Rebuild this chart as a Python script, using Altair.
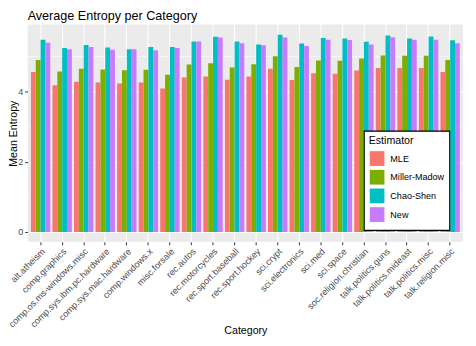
import altair as alt
import pandas as pd

title_text = "Average Entropy per Category"
categories = [
    "alt.atheism", "comp.graphics", "comp.os.ms-windows.misc", "comp.sys.ibm.pc.hardware",
    "comp.sys.mac.hardware", "comp.windows.x", "misc.forsale", "rec.autos", "rec.motorcycles",
    "rec.sport.baseball", "rec.sport.hockey", "sci.crypt", "sci.electronics", "sci.med",
    "sci.space", "soc.religion.christian", "talk.politics.guns", "talk.politics.mideast",
    "talk.politics.misc", "talk.religion.misc",
]
mle = [4.56, 4.18, 4.28, 4.26, 4.23, 4.26, 4.09, 4.40, 4.43, 4.34,
       4.43, 4.65, 4.33, 4.52, 4.51, 4.60, 4.67, 4.67, 4.67, 4.56]
miller_madow = [4.90, 4.57, 4.65, 4.63, 4.61, 4.62, 4.48, 4.77, 4.81, 4.69,
                4.78, 5.01, 4.70, 4.89, 4.88, 4.94, 5.03, 5.02, 5.02, 4.90]
chao_shen = [5.48, 5.24, 5.33, 5.26, 5.21, 5.27, 5.27, 5.43, 5.56, 5.43,
             5.34, 5.62, 5.37, 5.53, 5.51, 5.42, 5.60, 5.51, 5.57, 5.46]
new = [5.39, 5.21, 5.27, 5.19, 5.21, 5.18, 5.24, 5.43, 5.54, 5.38,
       5.32, 5.54, 5.30, 5.48, 5.47, 5.34, 5.55, 5.48, 5.48, 5.38]
estimators = ["MLE", "Miller-Madow", "Chao-Shen", "New"]
colors = ["#F8766D", "#7CAE00", "#00BFC4", "#C77CFF"]
minor_breaks = [1, 3, 5]
major_breaks = [0, 2, 4]

rows = []
for i, c in enumerate(categories):
    for est, vals in zip(estimators, [mle, miller_madow, chao_shen, new]):
        rows.append({"Category": c, "Estimator": est, "Mean Entropy": vals[i]})
df = pd.DataFrame(rows)
minor_df = pd.DataFrame({"Mean Entropy": minor_breaks})
title_df = pd.DataFrame({"t": [title_text]})

FONT = "Liberation Sans"
yscale = alt.Scale(domain=[-0.28, 5.91], nice=False)

minor_grid = alt.Chart(minor_df).mark_rule(color="white", strokeWidth=0.55).encode(
    y=alt.Y("Mean Entropy:Q", scale=yscale)
)

bars = alt.Chart(df).mark_bar().encode(
    x=alt.X(
        "Category:N", sort=categories,
        scale=alt.Scale(paddingInner=0.1, paddingOuter=0.15),
        axis=alt.Axis(
            title="Category", labelAngle=-45, labelAlign="right", labelBaseline="top",
            labelFontSize=9.2, labelColor="#4D4D4D", labelPadding=2, labelOverlap=False,
            tickSize=3, tickColor="#333333", tickWidth=1, domain=False,
            grid=True, gridColor="white", gridWidth=1.1, bandPosition=0.5,
            titleFontSize=10.8, titleColor="black", titleFontWeight="normal",
            titleY=93, titleBaseline="alphabetic",
        ),
    ),
    xOffset=alt.XOffset("Estimator:N", sort=estimators,
                        scale=alt.Scale(paddingInner=0, paddingOuter=0)),
    y=alt.Y(
        "Mean Entropy:Q", scale=yscale,
        axis=alt.Axis(
            values=major_breaks, title="Mean Entropy",
            labelFontSize=9.2, labelColor="#4D4D4D", labelPadding=2,
            tickSize=3, tickColor="#333333", tickWidth=1, domain=False,
            grid=True, gridColor="white", gridWidth=1.1,
            titleFontSize=10.8, titleColor="black", titleFontWeight="normal",
            titleX=-11.5, titleBaseline="alphabetic",
        ),
    ),
    color=alt.Color(
        "Estimator:N", sort=estimators,
        scale=alt.Scale(domain=estimators, range=colors),
        legend=alt.Legend(
            title="Estimator", orient="none", legendX=342, legendY=108,
            fillColor="white", strokeColor="black", padding=5,
            titleFontSize=10.8, titleColor="black", titleFontWeight="normal", titlePadding=4,
            labelFontSize=9.2, labelColor="black", labelOffset=5,
            symbolType="square", symbolSize=256, symbolStrokeColor="white",
            symbolStrokeWidth=1, symbolOpacity=1, rowPadding=-6,
        ),
    ),
)

title = alt.Chart(title_df).mark_text(
    align="left", baseline="alphabetic", fontSize=12.8, font=FONT, color="black"
).encode(text="t:N", x=alt.value(0), y=alt.value(-4.5))

chart = alt.layer(minor_grid, bars, title).properties(
    width=443, height=221,
    autosize="none",
    padding={"left": 20, "top": 14, "right": 5, "bottom": 95},
).configure(font=FONT).configure_view(fill="#EBEBEB", strokeWidth=0).configure_legend(
    strokeWidth=1.1, cornerRadius=0
)

chart.save("out.html", embed_options={"renderer": "svg", "actions": False})
